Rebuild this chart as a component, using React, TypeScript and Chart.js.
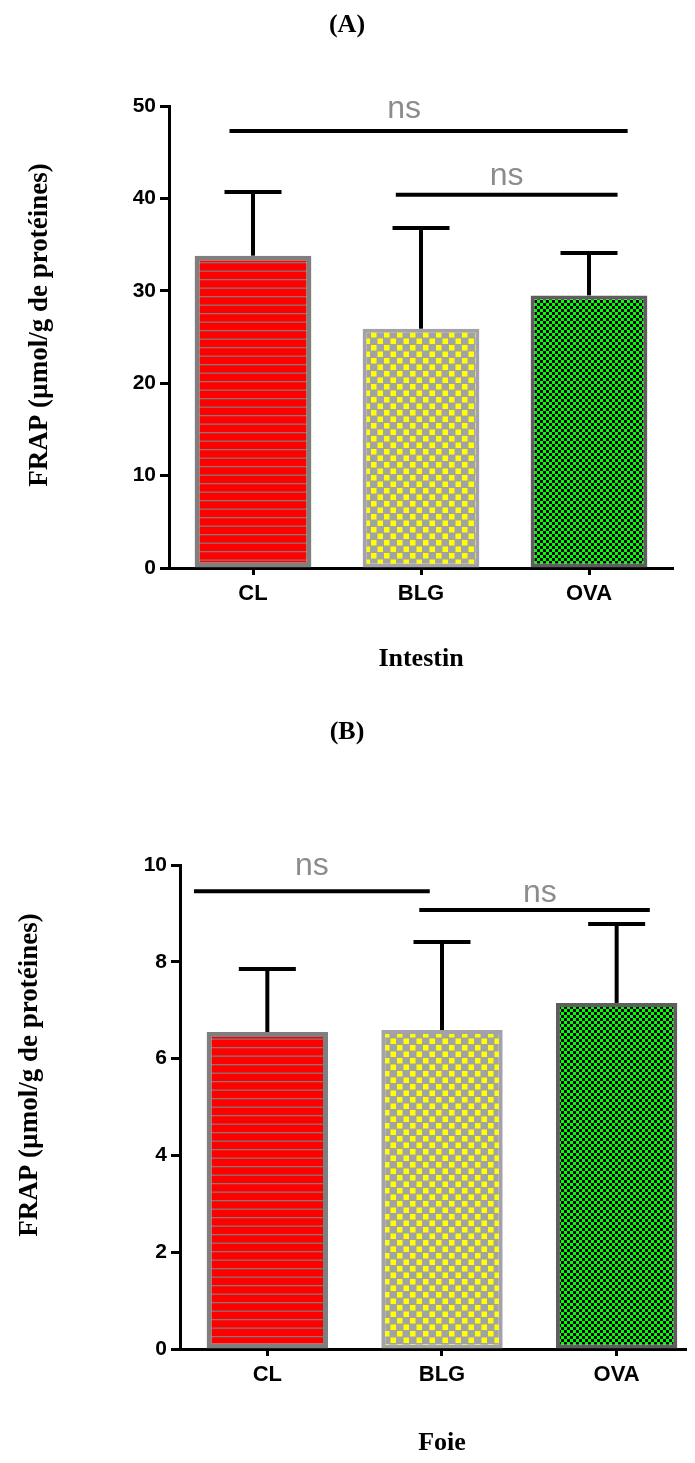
import React, { useEffect, useRef } from 'react';
import { Chart, registerables } from 'chart.js';

Chart.register(...registerables);

// ---------- data ----------
const categories = ['CL', 'BLG', 'OVA'];

const intestinMeans = [33.8, 25.9, 29.5];
const intestinSD = [6.9, 10.9, 4.6];
const intestinTicks = [0, 10, 20, 30, 40, 50];
// significance bars: from/to in category units, y in data units
const intestinNsFrom = [-0.14, 0.85];
const intestinNsTo = [2.23, 2.17];
const intestinNsY = [47.3, 40.4];
const intestinNsLabelX = [0.9, 1.51];
const intestinNsLabelY = [48.7, 41.5];

const foieMeans = [6.55, 6.59, 7.15];
const foieSD = [1.3, 1.82, 1.63];
const foieTicks = [0, 2, 4, 6, 8, 10];
const foieNsFrom = [-0.42, 0.87];
const foieNsTo = [0.93, 2.19];
const foieNsY = [9.46, 9.07];
const foieNsLabelX = [0.255, 1.56];
const foieNsLabelY = [9.79, 9.24];

const nsLabel = 'ns';

// ---------- styles ----------
const SERIF = "'Liberation Serif', 'Times New Roman', serif";
const SANS = "'Liberation Sans', Arial, sans-serif";

function makePattern(kind: string): CanvasPattern | string {
  const c = document.createElement('canvas');
  const ctx = c.getContext('2d');
  if (!ctx) return '#888';
  if (kind === 'red') {
    c.width = 8; c.height = 17;
    ctx.fillStyle = '#ff0000';
    ctx.fillRect(0, 0, 8, 17);
    ctx.fillStyle = '#8a7474';
    ctx.fillRect(0, 7, 8, 1.3);
    ctx.fillRect(0, 15.5, 8, 1.3);
  } else if (kind === 'yellow') {
    c.width = 13; c.height = 13;
    ctx.fillStyle = '#a2a2a2';
    ctx.fillRect(0, 0, 13, 13);
    ctx.fillStyle = '#ffff00';
    ctx.fillRect(0.5, 0.5, 5.5, 5.5);
    ctx.fillRect(7, 7, 5.5, 5.5);
  } else {
    c.width = 6; c.height = 6;
    ctx.fillStyle = '#00ff00';
    ctx.fillRect(0, 0, 6, 6);
    ctx.fillStyle = '#000000';
    ctx.fillRect(0, 0, 3, 3);
    ctx.fillRect(3, 3, 3, 3);
  }
  return ctx.createPattern(c, 'repeat') || '#888';
}

const annotPlugin = {
  id: 'annot',
  afterDatasetsDraw(chart: any, _args: any, opts: any) {
    const { ctx } = chart;
    const x = chart.scales.x;
    const y = chart.scales.y;
    ctx.save();
    ctx.strokeStyle = '#000';
    ctx.lineWidth = 4;
    ctx.lineCap = 'butt';
    // error bars (upper SD)
    opts.means.forEach((m: number, i: number) => {
      const px = x.getPixelForValue(i);
      const yb = y.getPixelForValue(m);
      const yt = y.getPixelForValue(m + opts.sds[i]);
      ctx.beginPath();
      ctx.moveTo(px, yb);
      ctx.lineTo(px, yt);
      ctx.stroke();
      ctx.beginPath();
      ctx.moveTo(px - 28.5, yt);
      ctx.lineTo(px + 28.5, yt);
      ctx.stroke();
    });
    // significance lines
    opts.nsFrom.forEach((f: number, i: number) => {
      const py = y.getPixelForValue(opts.nsY[i]);
      ctx.beginPath();
      ctx.moveTo(x.getPixelForValue(f), py);
      ctx.lineTo(x.getPixelForValue(opts.nsTo[i]), py);
      ctx.stroke();
      ctx.fillStyle = '#8c8c8c';
      ctx.font = `32px ${SANS}`;
      ctx.textAlign = 'center';
      ctx.textBaseline = 'alphabetic';
      ctx.fillText(nsLabel, x.getPixelForValue(opts.nsLabelX[i]), y.getPixelForValue(opts.nsLabelY[i]));
    });
    ctx.restore();
  },
  afterDraw(chart: any, _args: any, opts: any) {
    const { ctx } = chart;
    const x = chart.scales.x;
    ctx.save();
    ctx.fillStyle = '#000';
    ctx.textAlign = 'center';
    ctx.textBaseline = 'middle';
    ctx.font = `bold 26px ${SERIF}`;
    ctx.fillText(opts.panelTitle, opts.panelTitleX, opts.panelTitleY);
    ctx.font = `bold 26px ${SERIF}`;
    ctx.fillText(opts.xTitle, x.getPixelForValue(1), opts.xTitleY);
    ctx.translate(opts.yTitleX, opts.yTitleY);
    ctx.rotate(-Math.PI / 2);
    ctx.font = `bold 27px ${SERIF}`;
    ctx.fillText(opts.yTitle, 0, 0);
    ctx.restore();
  },
};

interface PanelProps {
  means: number[];
  sds: number[];
  yTicks: number[];
  nsFrom: number[];
  nsTo: number[];
  nsY: number[];
  nsLabelX: number[];
  nsLabelY: number[];
  height: number;
  top: number;
  yWidth: number;
  padTop: number;
  padBottom: number;
  padRight: number;
  xMax: number;
  panelTitle: string;
  panelTitleY: number;
  xTitle: string;
  xTitleY: number;
  yTitleX: number;
  yTitleY: number;
}

function Panel(p: PanelProps) {
  const ref = useRef<HTMLCanvasElement | null>(null);
  useEffect(() => {
    if (!ref.current) return;
    const fills = [makePattern('red'), makePattern('yellow'), makePattern('green')];
    const chart = new Chart(ref.current, {
      type: 'bar',
      data: {
        datasets: [
          {
            data: p.means.map((v, i) => ({ x: i, y: v })),
            backgroundColor: fills as any,
            borderColor: ['#7f7f7f', '#a2a2a8', '#5e5e5e'],
            borderWidth: [5, 4, 4],
            borderSkipped: false,
            barPercentage: 0.695,
            categoryPercentage: 1,
          } as any,
        ],
      },
      options: {
        responsive: false,
        animation: false,
        events: [],
        layout: { padding: { left: 0, top: p.padTop, right: p.padRight, bottom: p.padBottom } },
        plugins: {
          legend: { display: false },
          tooltip: { enabled: false },
          annot: {
            means: p.means,
            sds: p.sds,
            nsFrom: p.nsFrom,
            nsTo: p.nsTo,
            nsY: p.nsY,
            nsLabelX: p.nsLabelX,
            nsLabelY: p.nsLabelY,
            panelTitle: p.panelTitle,
            panelTitleX: 347,
            panelTitleY: p.panelTitleY,
            xTitle: p.xTitle,
            xTitleY: p.xTitleY,
            yTitle: 'FRAP (µmol/g de protéines)',
            yTitleX: p.yTitleX,
            yTitleY: p.yTitleY,
          },
        } as any,
        scales: {
          x: {
            type: 'linear',
            offset: false,
            min: -0.5,
            max: p.xMax,
            afterBuildTicks: (s: any) => {
              s.ticks = categories.map((_, i) => ({ value: i }));
            },
            afterFit: (s: any) => {
              s.height = 40;
            },
            ticks: {
              callback: (v: any) => categories[v] ?? '',
              font: { family: SANS, size: 22, weight: 'bold' },
              color: '#000',
              padding: 6,
              maxRotation: 0,
              autoSkip: false,
            },
            grid: { offset: false, drawOnChartArea: false, drawTicks: true, tickLength: 7, tickWidth: 3, tickColor: '#000' },
            border: { display: true, color: '#000', width: 3 },
          },
          y: {
            min: 0,
            max: p.yTicks[p.yTicks.length - 1],
            afterBuildTicks: (s: any) => {
              s.ticks = p.yTicks.map((v) => ({ value: v }));
            },
            afterFit: (s: any) => {
              s.width = p.yWidth;
            },
            ticks: {
              font: { family: SANS, size: 21, weight: 'bold' },
              color: '#000',
              padding: 4,
            },
            grid: { drawOnChartArea: false, drawTicks: true, tickLength: 9, tickWidth: 3, tickColor: '#000' },
            border: { display: true, color: '#000', width: 3 },
          },
        } as any,
      },
      plugins: [annotPlugin as any],
    });
    return () => chart.destroy();
  }, []);
  return (
    <canvas
      ref={ref}
      width={695}
      height={p.height}
      style={{ position: 'absolute', left: -8, top: p.top - 8, width: 695, height: p.height, display: 'block' }}
    />
  );
}

export default function App() {
  return (
    <div style={{ position: 'relative', height: 1447 }}>
      <Panel
        means={intestinMeans}
        sds={intestinSD}
        yTicks={intestinTicks}
        nsFrom={intestinNsFrom}
        nsTo={intestinNsTo}
        nsY={intestinNsY}
        nsLabelX={intestinNsLabelX}
        nsLabelY={intestinNsLabelY}
        height={700}
        top={0}
        yWidth={169}
        padTop={106}
        padBottom={92}
        padRight={22}
        xMax={2.5}
        panelTitle="(A)"
        panelTitleY={25}
        xTitle="Intestin"
        xTitleY={659}
        yTitleX={40}
        yTitleY={325}
      />
      <Panel
        means={foieMeans}
        sds={foieSD}
        yTicks={foieTicks}
        nsFrom={foieNsFrom}
        nsTo={foieNsTo}
        nsY={foieNsY}
        nsLabelX={foieNsLabelX}
        nsLabelY={foieNsLabelY}
        height={763}
        top={700}
        yWidth={180}
        padTop={165}
        padBottom={74}
        padRight={5}
        xMax={2.42}
        panelTitle="(B)"
        panelTitleY={32}
        xTitle="Foie"
        xTitleY={743}
        yTitleX={30}
        yTitleY={375}
      />
    </div>
  );
}
